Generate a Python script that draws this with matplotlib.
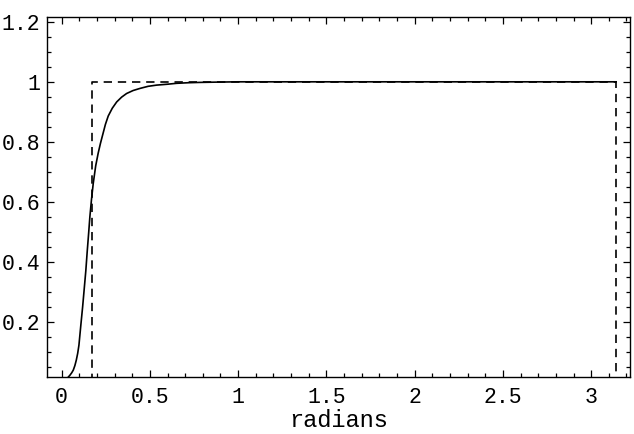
import matplotlib
matplotlib.use("Agg")
import matplotlib.pyplot as plt
from matplotlib.ticker import MultipleLocator, FixedLocator

# ============ DATA ============
# solid curve
curve_x = [0.0, 0.02, 0.035, 0.047, 0.057, 0.066, 0.075, 0.083, 0.091, 0.098,
           0.109, 0.119, 0.128, 0.137, 0.145, 0.153, 0.160, 0.169, 0.179, 0.193,
           0.207, 0.220, 0.232, 0.248, 0.264, 0.287, 0.312, 0.340, 0.368, 0.405,
           0.444, 0.490, 0.538, 0.600, 0.651, 0.720, 0.780, 0.880, 1.0, 1.5,
           2.0, 2.5, 3.0, 3.1416]
curve_y = [0.002, 0.008, 0.014, 0.022, 0.030, 0.039, 0.054, 0.072, 0.095, 0.122,
           0.19, 0.25, 0.31, 0.37, 0.435, 0.495, 0.55, 0.607, 0.661, 0.72,
           0.762, 0.795, 0.822, 0.858, 0.886, 0.912, 0.933, 0.949, 0.961, 0.971,
           0.978, 0.985, 0.989, 0.992, 0.995, 0.997, 0.998, 0.999, 1.0, 1.0,
           1.0, 1.0, 1.0, 1.0]

# dashed box function (pi/18 .. pi)
box_x = [0.1745, 0.1745, 3.1416, 3.1416]
box_y = [0.0, 1.0, 1.0, 0.0]

x_ticks = [0, 0.5, 1, 1.5, 2, 2.5, 3]
x_labels = ["0", "0.5", "1", "1.5", "2", "2.5", "3"]
y_ticks = [0.2, 0.4, 0.6, 0.8, 1.0, 1.2]
y_labels = ["0.2", "0.4", "0.6", "0.8", "1", "1.2"]

plt.rcParams["font.family"] = ["Liberation Mono", "DejaVu Sans Mono"]

fig = plt.figure(figsize=(6.34, 4.34), dpi=100)
ax = fig.add_axes([0.0741, 0.1313, 0.9196, 0.8295])

ax.plot(curve_x, curve_y, color="black", lw=1.2)
ax.plot(box_x, box_y, color="black", lw=1.2, dashes=(5, 3.5))

ax.set_xlim(-0.083, 3.22)
ax.set_ylim(0.016, 1.216)

ax.xaxis.set_major_locator(FixedLocator(x_ticks))
ax.set_xticklabels(x_labels)
ax.xaxis.set_minor_locator(MultipleLocator(0.1))
ax.yaxis.set_major_locator(FixedLocator(y_ticks))
ax.set_yticklabels(y_labels)
ax.yaxis.set_minor_locator(MultipleLocator(0.05))

ax.tick_params(which="both", direction="in", top=True, right=True, width=0.9,
               labelsize=15.5, colors="black")
ax.tick_params(which="major", length=5, pad=5)
ax.tick_params(axis="x", which="major", pad=7)
ax.tick_params(which="minor", length=3)
for s in ax.spines.values():
    s.set_linewidth(1.0)

ax.set_xlabel("radians", fontsize=17, labelpad=1)

fig.savefig("out.png", dpi=100)
